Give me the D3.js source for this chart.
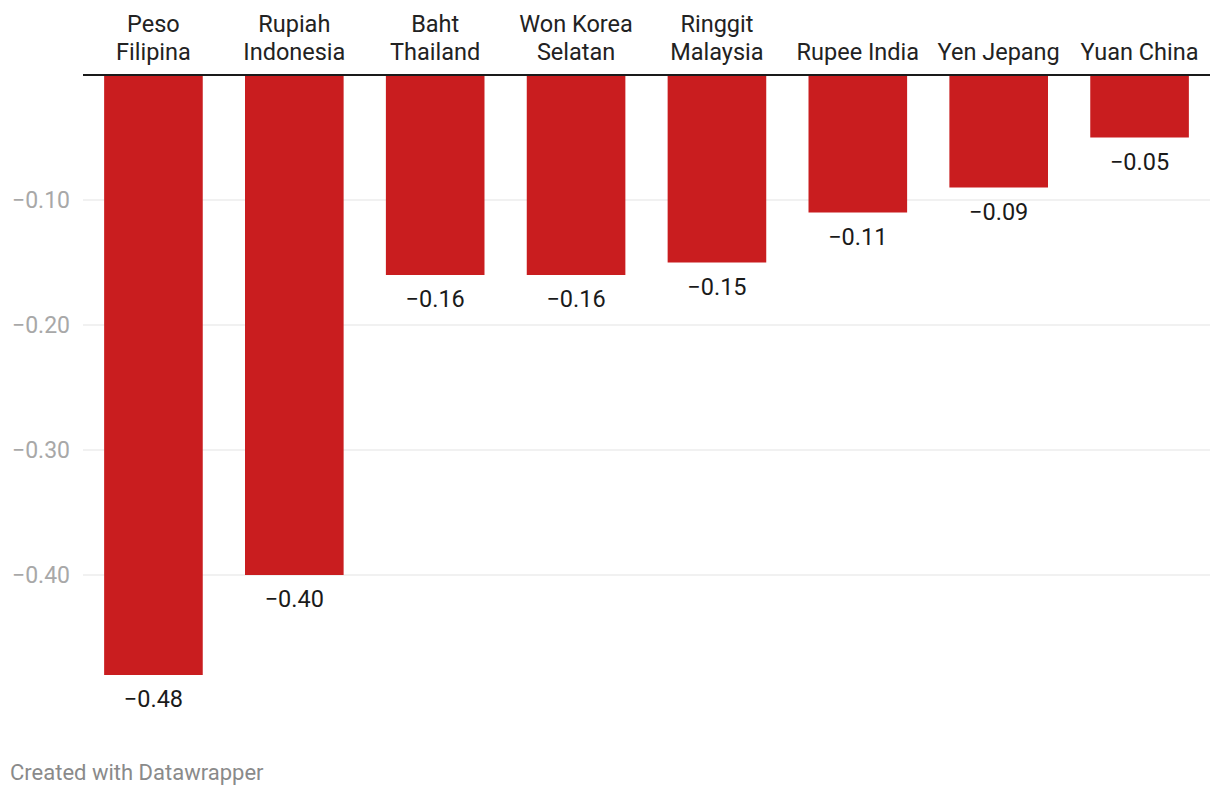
<!DOCTYPE html>
<html>
<head>
<meta charset="utf-8">
<script src="https://cdn.jsdelivr.net/npm/d3@7"></script>
<style>
  body { margin: 0; background: #fff; }
  svg { display: block; font-family: Roboto, "Noto Sans", sans-serif; }
</style>
</head>
<body>
<svg id="chart" width="1220" height="796"></svg>
<script>
const categories = [["Peso", "Filipina"], ["Rupiah", "Indonesia"], ["Baht", "Thailand"], ["Won Korea", "Selatan"], ["Ringgit", "Malaysia"], ["Rupee India"], ["Yen Jepang"], ["Yuan China"]];
const values = [-0.48, -0.40, -0.16, -0.16, -0.15, -0.11, -0.09, -0.05];
const tickValues = [-0.10, -0.20, -0.30, -0.40];

const svg = d3.select("#chart");
const plotLeft = 83, plotRight = 1210, plotTop = 75;

const x = d3.scaleBand()
  .domain(categories.map((d, i) => i))
  .range([plotLeft, plotRight])
  .paddingInner(0.3)
  .paddingOuter(0.15);

const y = d3.scaleLinear().domain([0, -0.48]).range([plotTop, plotTop + 600]);

const fmt = v => (v < 0 ? "\u2212" : "") + Math.abs(v).toFixed(2);

// gridlines
svg.append("g").selectAll("line").data(tickValues).join("line")
  .attr("x1", plotLeft).attr("x2", plotRight)
  .attr("y1", d => y(d)).attr("y2", d => y(d))
  .attr("stroke", "#e3e3e3").attr("stroke-width", 1);

// tick labels
svg.append("g").selectAll("text").data(tickValues).join("text")
  .attr("x", 70).attr("y", d => y(d) + 8)
  .attr("text-anchor", "end")
  .attr("font-size", 23)
  .attr("fill", "#a8a8a8")
  .text(fmt);

// bars
svg.append("g").selectAll("rect").data(values).join("rect")
  .attr("x", (d, i) => x(i))
  .attr("width", x.bandwidth())
  .attr("y", y(0))
  .attr("height", d => y(d) - y(0))
  .attr("fill", "#c91d1f");

// baseline
svg.append("line")
  .attr("x1", plotLeft).attr("x2", plotRight)
  .attr("y1", y(0)).attr("y2", y(0))
  .attr("stroke", "#1a1a1a").attr("stroke-width", 2);

// value labels
svg.append("g").selectAll("text").data(values).join("text")
  .attr("x", (d, i) => x(i) + x.bandwidth() / 2)
  .attr("y", d => y(d) + 32)
  .attr("text-anchor", "middle")
  .attr("font-size", 23.5)
  .attr("fill", "#1a1a1a")
  .text(fmt);

// category labels
const cat = svg.append("g").selectAll("text").data(categories).join("text")
  .attr("text-anchor", "middle")
  .attr("font-size", 23.5)
  .attr("fill", "#222");
cat.each(function(d, i) {
  const t = d3.select(this);
  const cx = x(i) + x.bandwidth() / 2;
  d.forEach((line, j) => {
    t.append("tspan")
      .attr("x", cx)
      .attr("y", 60 - (d.length - 1 - j) * 28)
      .text(line);
  });
});

// footer
svg.append("text")
  .attr("x", 10).attr("y", 780)
  .attr("font-size", 22)
  .attr("fill", "#8a8a8a")
  .text("Created with Datawrapper");
</script>
</body>
</html>
